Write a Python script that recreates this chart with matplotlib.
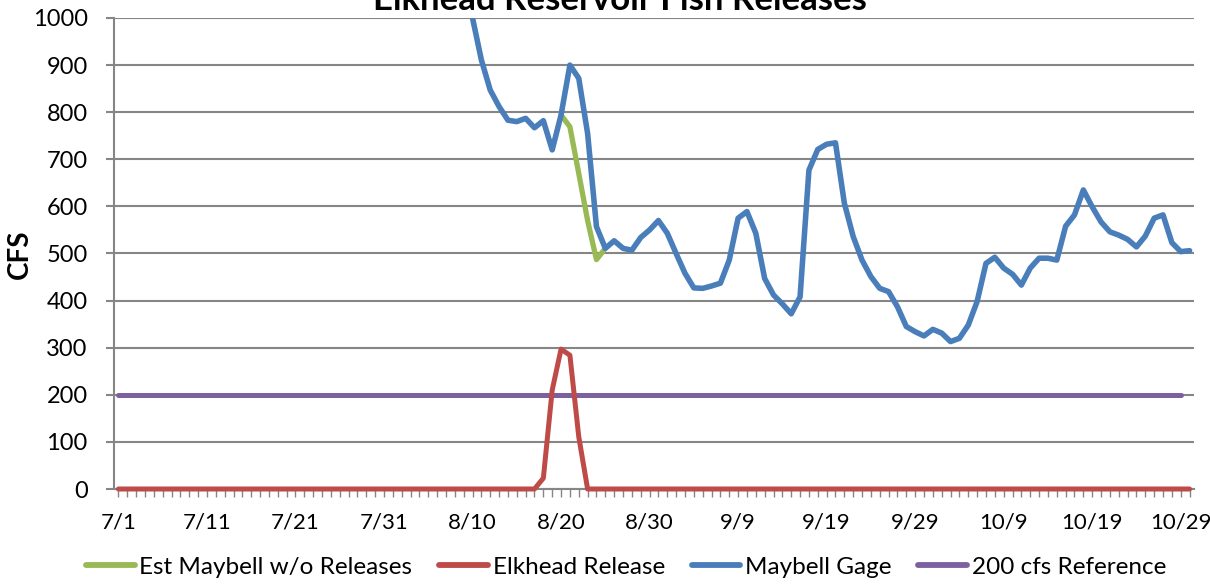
import numpy as np
import matplotlib
matplotlib.use('Agg')
from matplotlib import pyplot as plt

# days from 7/1 (day 0) to 10/30 (day 121)
days = np.arange(122)
tick_days = list(range(0, 121, 10))
tick_labels = ['7/1', '7/11', '7/21', '7/31', '8/10', '8/20', '8/30',
               '9/9', '9/19', '9/29', '10/9', '10/19', '10/29']

# Maybell Gage, read from day 39 (8/8) on, goes off the top before that
gage_start = 39
maybell_gage = [1100, 1000, 911, 847, 812, 783, 780, 787, 767, 782,
                720, 794, 900, 872, 755, 557, 511, 527, 511, 507,
                534, 550, 570, 543, 500, 458, 427, 426, 431, 437,
                486, 575, 589, 543, 447, 412, 393, 372, 408, 677,
                721, 732, 735, 607, 536, 486, 451, 426, 419, 387,
                345, 334, 325, 339, 331, 313, 320, 348, 398, 479,
                492, 469, 456, 433, 469, 490, 490, 486, 558, 582,
                635, 599, 567, 546, 539, 530, 514, 537, 575, 582,
                523, 504, 506]

# Est Maybell w/o Releases, only where it differs from the gage
est_start = 50
est_maybell = [794, 769, 670, 570, 487, 511]

# Elkhead Release, zero except around 8/20
elkhead_release = [0] * 122
release_start = 48
release_values = [23, 210, 297, 284, 111]
for i, v in enumerate(release_values):
    elkhead_release[release_start + i] = v

# 200 cfs Reference, 7/1 to 10/29
reference = [200] * 121

green = '#98B954'
red = '#BE4B48'
blue = '#4A7EBB'
purple = '#7D60A0'
grid_grey = '#868686'
font = 'Lato'

fig = plt.figure(figsize=(12.1, 5.85), dpi=100)
ax = fig.add_axes([114 / 1210, 1 - 489 / 585, 1080 / 1210, 471 / 585])

ax.plot(days[est_start:est_start + len(est_maybell)], est_maybell, color=green,
        lw=3.8, solid_joinstyle='round', solid_capstyle='round', zorder=3, label='Est Maybell w/o Releases')
ax.plot(days, elkhead_release, color=red, lw=3.6, solid_joinstyle='round',
        solid_capstyle='round', zorder=5, clip_on=False, label='Elkhead Release')
ax.plot(days[gage_start:], maybell_gage, color=blue, lw=4.0, solid_joinstyle='round',
        solid_capstyle='round', zorder=6, label='Maybell Gage')
ax.plot(days[:len(reference)], reference, color=purple, lw=3.6,
        solid_capstyle='round', zorder=4, label='200 cfs Reference')

ax.set_xlim(-0.5, 121.5)
ax.set_ylim(0, 1000)
ax.set_yticks(range(0, 1001, 100))
ax.set_xticks(tick_days)
ax.set_xticklabels(tick_labels)
ax.set_xticks(days, minor=True)

ax.yaxis.grid(True, color=grid_grey, lw=1.5)
ax.set_axisbelow(True)
for side in ['top', 'right']:
    ax.spines[side].set_visible(False)
for side in ['left', 'bottom']:
    ax.spines[side].set_color(grid_grey)
    ax.spines[side].set_linewidth(1.5)

ax.tick_params(axis='y', which='major', direction='out', length=6, width=1.5,
               color=grid_grey, pad=13, labelsize=17)
ax.tick_params(axis='x', which='both', direction='out', length=6, width=1,
               color=grid_grey, pad=11, labelsize=16)
for lab in ax.get_xticklabels() + ax.get_yticklabels():
    lab.set_fontfamily(font)

fig.text(0.512, 1 - 10 / 585, 'Elkhead Reservoir Fish Releases', ha='center',
         va='baseline', fontsize=25, fontweight='bold', family=font)
fig.text(20 / 1210, 1 - 254 / 585, 'CFS', ha='center', va='center', rotation=90,
         fontsize=20, fontweight='bold', family=font)

leg = fig.legend(loc='center', bbox_to_anchor=(626 / 1210, 1 - 567 / 585), ncol=4,
                 frameon=False, handlelength=2.0, handletextpad=0.2, columnspacing=1.1,
                 prop={'family': font, 'size': 17.5})
for line in leg.get_lines():
    line.set_linewidth(4.2)

fig.savefig('out.png', dpi=100)
